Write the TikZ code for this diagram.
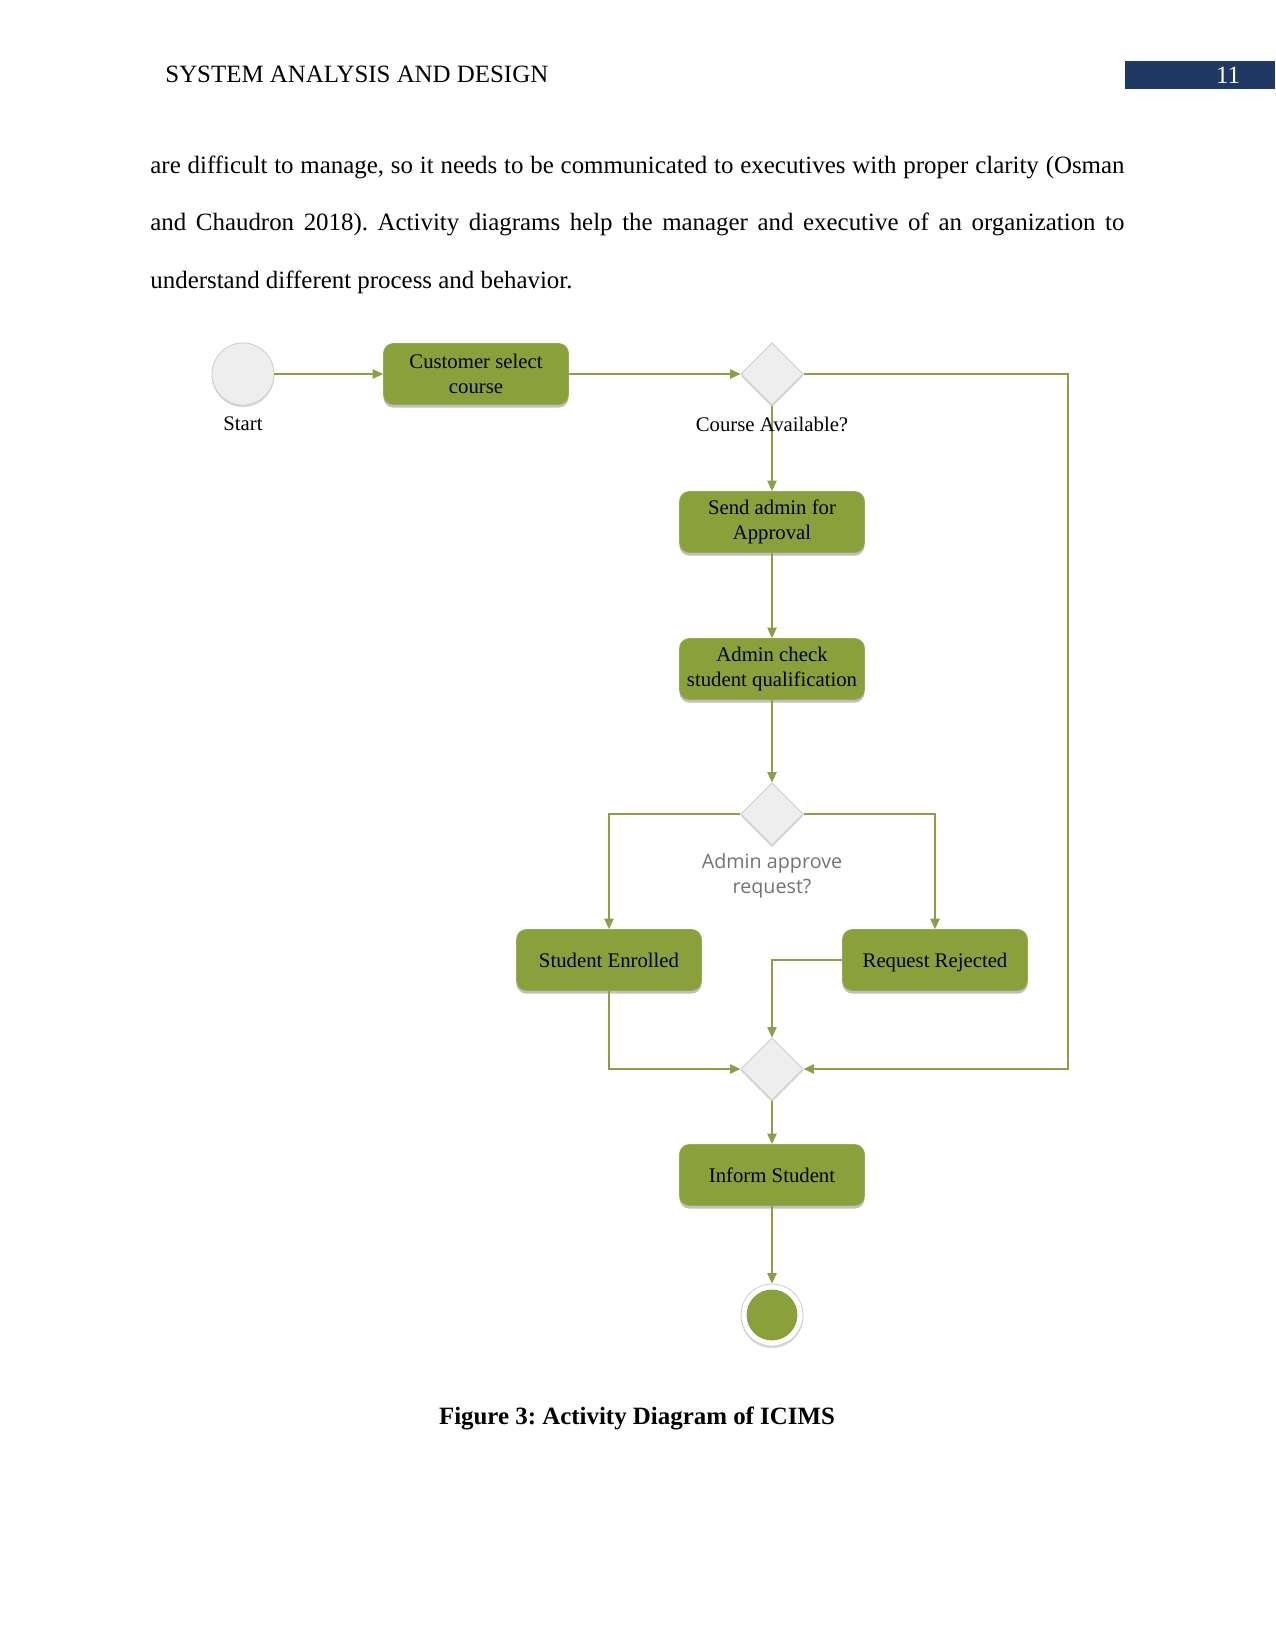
\documentclass[tikz,border=0pt]{standalone}
\usepackage{fontspec}
\setmainfont{Liberation Serif}
\newfontfamily\labfont{Open Sans}
\usetikzlibrary{shapes.geometric,arrows.meta,shadows}
\frenchspacing
\newcommand\boxstrut{\rule[-2.3pt]{0pt}{12pt}}
\definecolor{actgreen}{RGB}{138,160,58}
\definecolor{actborder}{RGB}{150,170,80}
\definecolor{linegreen}{RGB}{140,158,70}
\definecolor{decfill}{RGB}{238,238,238}
\definecolor{decborder}{RGB}{205,205,205}
\definecolor{hdrblue}{RGB}{31,56,100}
\tikzset{
  act/.style={draw=actborder, fill=actgreen, rounded corners=4.8pt,
    minimum width=89.1pt, minimum height=29.4pt, align=center, inner sep=2pt,
    font=\fontsize{10}{12}\selectfont,
    drop shadow={shadow xshift=0pt, shadow yshift=-1.5pt, opacity=0.25, fill=black}},
  dec/.style={diamond, draw=decborder, fill=decfill, minimum width=30pt,
    minimum height=30pt, inner sep=0pt,
    drop shadow={shadow xshift=0pt, shadow yshift=-1pt, opacity=0.15, fill=black}},
  flow/.style={draw=linegreen, line width=0.7pt, -{Triangle[length=5pt,width=4.5pt]}},
  lbl/.style={font=\fontsize{10}{12}\selectfont, inner sep=0pt},
  body/.style={anchor=base west, inner sep=0pt, font=\fontsize{12}{14}\selectfont}
}
\begin{document}
\begin{tikzpicture}[x=0.4818pt, y=-0.4818pt]
\useasboundingbox (0,0) rectangle (1275,1650);
% header
\node[body] (hdr) at (165,83) {SYSTEM ANALYSIS AND DESIGN};
\fill[hdrblue] (1125,61) rectangle (1275,89);
\node[inner sep=0pt, text=white, font=\fontsize{12}{14}\selectfont] (pg) at (1228,75) {11};
% body text
\node[body] (t1) at (150,174) {\hbox to 469.3pt{are difficult to manage, so it needs to be communicated to executives with proper clarity (Osman}};
\node[body] (t2) at (150,231) {\hbox to 469.3pt{and Chaudron 2018). Activity diagrams help the manager and executive of an organization to}};
\node[body] (t3) at (150,289) {understand different process and behavior.};
% diagram nodes
\node[circle, draw=decborder, fill=decfill, minimum size=29.9pt, inner sep=0pt,
  drop shadow={shadow xshift=0pt, shadow yshift=-1pt, opacity=0.15, fill=black}] (start) at (243,374) {};
\node[lbl] (startlbl) at (243,424) {Start};
\node[act] (cust) at (476,374) {Customer select\\course};
\node[dec] (d1) at (772,374) {};
\node[act] (send) at (772,522) {Send admin for\\Approval};
\node[act] (check) at (772,669) {Admin check\\student qualification};
\node[dec] (d2) at (772,814) {};
\node[act] (enr) at (609,960) {\boxstrut Student Enrolled};
\node[act] (rej) at (935,960) {\boxstrut Request Rejected};
\node[dec] (d3) at (772,1069) {};
\node[act] (inform) at (772,1175) {\boxstrut Inform Student};
\node[circle, draw=decborder, fill=white, minimum size=29.9pt, inner sep=0pt,
  drop shadow={shadow xshift=0pt, shadow yshift=-1pt, opacity=0.15, fill=black}] (end) at (772,1315) {};
\node[circle, fill=actgreen, minimum size=24.5pt, inner sep=0pt] (endin) at (end) {};
\coordinate (cr) at (1068,374);
% connectors
\draw[flow] (start.east) -- (cust.west);
\draw[flow] (cust.east) -- (d1.west);
\draw[flow] (d1.south) -- (send.north);
\draw[flow] (send.south) -- (check.north);
\draw[flow] (check.south) -- (d2.north);
\draw[flow] (d2.west) -| (enr.north);
\draw[flow] (d2.east) -| (rej.north);
\draw[flow] (rej.west) -| (d3.north);
\draw[flow] (enr.south) |- (d3.west);
\draw[flow] (d1.east) -- (cr) |- (d3.east);
\draw[flow] (d3.south) -- (inform.north);
\draw[flow] (inform.south) -- (end.north);
% labels
\node[lbl] (d1lbl) at (772,424) {Course Available?};
\node[inner sep=0pt, align=center, text=black!55, font=\labfont\fontsize{9.5}{12}\selectfont] (d2lbl) at (772,876) {Admin approve\\request?};
% caption
\node[anchor=base, inner sep=0pt, font=\fontsize{12}{14}\selectfont\bfseries] (cap) at (637,1424) {Figure 3: Activity Diagram of ICIMS};
\end{tikzpicture}
\end{document}
